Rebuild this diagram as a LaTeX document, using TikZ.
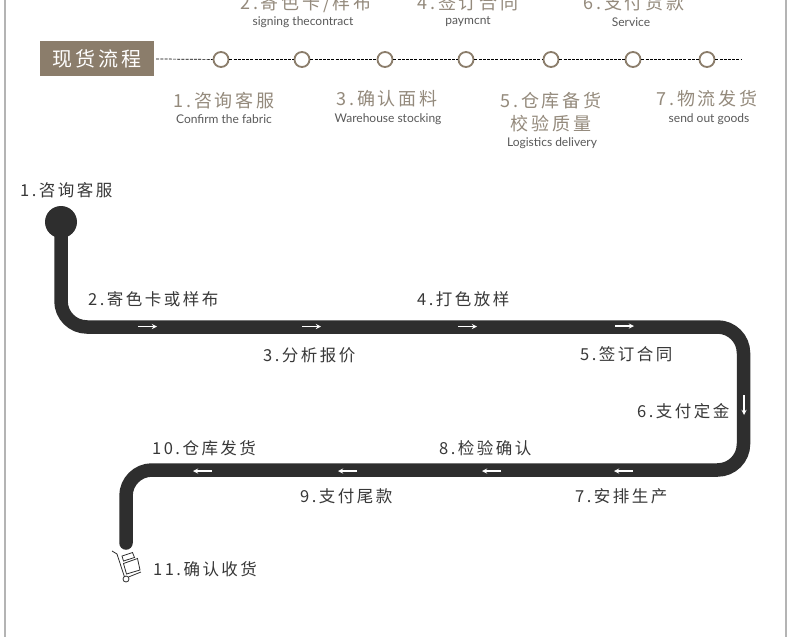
\documentclass[tikz,border=0pt]{standalone}
\usepackage{fontspec}
\usepackage{xcolor}
\setmainfont{Noto Sans CJK SC}
\newfontfamily\cnfont[LetterSpace=15]{Noto Sans CJK SC}
\newfontfamily\enfont{Lato}
\definecolor{scheme}{HTML}{8B7D6B}
\definecolor{titlegray}{HTML}{948A7C}
\definecolor{belt}{HTML}{2E2E2E}
\definecolor{framegray}{HTML}{B4B4B4}
\tikzset{
	stepdot/.style={circle,draw=scheme,line width=1.8pt,fill=white,minimum size=15pt,inner sep=0pt},
	steptitle/.style={inner sep=0pt,text=titlegray,align=center,font=\cnfont\fontsize{18}{23}\selectfont},
	stepen/.style={inner sep=0pt,text=black!65,font=\enfont\fontsize{12}{14}\selectfont},
	flowlabel/.style={inner sep=0pt,anchor=west,text=black!78,font=\cnfont\fontsize{16.5}{18}\selectfont},
	flowarrow/.style={->,>=stealth,white,line width=1.3pt},
	dotline/.style={black,line width=0.7pt,dash pattern=on 3pt off 1.2pt}
}

\begin{document}
\begin{tikzpicture}[x=1pt,y=-1pt]
	\useasboundingbox (0,0) rectangle (790,637);
	\clip (0,0) rectangle (790,637);
	\fill[white] (0,0) rectangle (790,637);
	\draw[framegray,line width=2.5pt] (5,0) -- (5,637);
	\draw[framegray,line width=2.5pt] (786,0) -- (786,637);

	% header row
	\node[fill=scheme,text=white,minimum width=114pt,minimum height=35pt,inner sep=0pt,font=\cnfont\fontsize{20}{20}\selectfont] (head) at (97,58.5) {现货流程};
	\coordinate (dotend) at (742,59.5);
	\node[stepdot] (d1) at (221,59.5) {};
	\node[stepdot] (d2) at (302,59.5) {};
	\node[stepdot] (d3) at (385,59.5) {};
	\node[stepdot] (d4) at (466,59.5) {};
	\node[stepdot] (d5) at (551,59.5) {};
	\node[stepdot] (d6) at (633,59.5) {};
	\node[stepdot] (d7) at (707,59.5) {};
	\draw[dotline,shorten <=2pt] (head) -- (d1);
	\draw[dotline] (d1) -- (d2);
	\draw[dotline] (d2) -- (d3);
	\draw[dotline] (d3) -- (d4);
	\draw[dotline] (d4) -- (d5);
	\draw[dotline] (d5) -- (d6);
	\draw[dotline] (d6) -- (d7);
	\draw[dotline] (d7) -- (dotend);

	\node[steptitle] (t2) at (306,3) {2.寄色卡/样布};
	\node[stepen] (e2) at (303,22) {signing thecontract};
	\node[steptitle] (t4) at (468,3) {4.签订合同};
	\node[stepen] (e4) at (468,22) {paymcnt};
	\node[steptitle] (t6) at (634,3) {6.支付货款};
	\node[stepen] (e6) at (631,22) {Service};
	\node[steptitle] (t1) at (224,101) {1.咨询客服};
	\node[stepen] (e1) at (224,119) {Confirm the fabric};
	\node[steptitle] (t3) at (387,99) {3.确认面料};
	\node[stepen] (e3) at (388,119) {Warehouse stocking};
	\node[steptitle] (t5) at (551,112) {5.仓库备货\\校验质量};
	\node[stepen] (e5) at (552,143) {Logistics delivery};
	\node[steptitle] (t7) at (707,99) {7.物流发货};
	\node[stepen] (e7) at (709,119) {send out goods};

	% belt
	\coordinate (b0) at (61,222);
	\coordinate (b1) at (61,327);
	\coordinate (b2) at (743.5,327);
	\coordinate (b3) at (743.5,470);
	\coordinate (b4) at (126,470);
	\coordinate (b5) at (126,543);
	\fill[belt] (b0) circle (16);
	\draw[belt,line width=13.5pt,line cap=round,rounded corners=26pt] (b0) -- (b1) -- (b2) -- (b3) -- (b4) -- (b5);

	% arrows on belt
	\coordinate (a1) at (138,326.5);
	\coordinate (a2) at (302,326.5);
	\coordinate (a3) at (458,326.5);
	\coordinate (a4) at (615,326);
	\coordinate (a5) at (744,395);
	\coordinate (a6) at (633,471);
	\coordinate (a7) at (501,471);
	\coordinate (a8) at (357,471);
	\coordinate (a9) at (212,471);
	\draw[flowarrow] (a1) -- ++(19,0);
	\draw[flowarrow] (a2) -- ++(19,0);
	\draw[flowarrow] (a3) -- ++(19,0);
	\draw[flowarrow] (a4) -- ++(19,0);
	\draw[flowarrow] (a5) -- ++(0,20);
	\draw[flowarrow] (a6) -- ++(-19,0);
	\draw[flowarrow] (a7) -- ++(-19,0);
	\draw[flowarrow] (a8) -- ++(-19,0);
	\draw[flowarrow] (a9) -- ++(-19,0);

	% labels
	\node[flowlabel] (f1) at (20,190.5) {1.咨询客服};
	\node[flowlabel] (f2) at (88,299.5) {2.寄色卡或样布};
	\node[flowlabel] (f3) at (263,355.5) {3.分析报价};
	\node[flowlabel] (f4) at (417,299.5) {4.打色放样};
	\node[flowlabel] (f5) at (580,354.5) {5.签订合同};
	\node[flowlabel] (f6) at (637,411.5) {6.支付定金};
	\node[flowlabel] (f7) at (575,496.5) {7.安排生产};
	\node[flowlabel] (f8) at (439,448.5) {8.检验确认};
	\node[flowlabel] (f9) at (300,496.5) {9.支付尾款};
	\node[flowlabel] (f10) at (152,448.5) {10.仓库发货};
	\node[flowlabel] (f11) at (153,569.5) {11.确认收货};

	% trolley
	\draw[belt,line width=0.8pt,line join=round] (112,551) -- (117,554) -- (124.5,577);
	\draw[belt,line width=0.8pt] (126,579) circle (3);
	\draw[belt,line width=0.8pt] (128.5,577) -- (141,572);
	\draw[belt,line width=0.8pt] (122,556) -- (132.5,552.5) -- (134.5,557.5) -- (123.5,561) -- cycle;
	\draw[belt,line width=0.8pt] (123.5,563.5) -- (137.5,558.5) -- (140,570) -- (126.5,574) -- cycle;
\end{tikzpicture}
\end{document}
